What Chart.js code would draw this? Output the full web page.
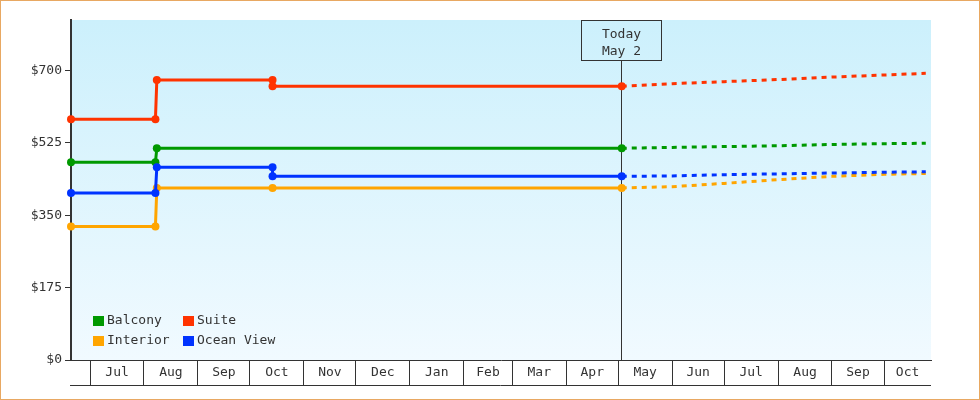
<!DOCTYPE html>
<html>
<head>
<meta charset="utf-8">
<script src="https://cdn.jsdelivr.net/npm/chart.js@4.4.1/dist/chart.umd.min.js"></script>
<style>
html,body{margin:0;padding:0;background:#fff;}
#wrap{width:980px;height:400px;position:relative;}
canvas{display:block;}
</style>
</head>
<body>
<div id="wrap"><canvas id="c" width="980" height="400"></canvas></div>
<script>
// ---- data (x values are days counted from Jul 1 of the first year) ----
const monthLabels = ['Jul','Aug','Sep','Oct','Nov','Dec','Jan','Feb','Mar','Apr','May','Jun','Jul','Aug','Sep','Oct'];
const monthStartDays = [0,31,62,92,123,153,184,215,243,274,304,335,365,396,427,457];
const yTickValues = [0,175,350,525,700];
const xMinDay = -11;
const xMaxDay = 484;
const yMaxValue = 822;
const todayDay = 306;
const todayLabel = ['Today','May 2'];

const seriesNames = ['Balcony','Suite','Interior','Ocean View'];

const balconyDays   = [-11, 37.6, 38.4, 306, 335, 365, 396, 427, 457, 481];
const balconyPrices = [478, 478, 512, 512, 514, 516, 518, 521, 523, 524];

const suiteDays   = [-11, 37.6, 38.4, 105, 105, 306, 335, 365, 396, 427, 457, 481];
const suitePrices = [582, 582, 677, 677, 662, 662, 668, 673, 678, 684, 689, 693];

const interiorDays   = [-11, 37.6, 38.4, 105, 306, 335, 365, 396, 427, 457, 481];
const interiorPrices = [323, 323, 416, 416, 416, 419, 427, 436, 444, 449, 451];

const oceanDays   = [-11, 37.6, 38.4, 105, 105, 306, 335, 365, 396, 427, 457, 481];
const oceanPrices = [404, 404, 466, 466, 444, 444, 445, 448, 450, 452, 454, 455];

// ---- styles ----
const colors = {Balcony:'#009900', Suite:'#ff3300', Interior:'#ffa500', 'Ocean View':'#0033ff'};
const FONT = '"DejaVu Sans Mono", "Liberation Mono", monospace';
const INK = '#333333';

function pts(days, vals){ return days.map((d,i)=>({x:d, y:vals[i]})); }

function makeDataset(name, days, vals, order){
  const c = colors[name];
  return {
    label: name,
    data: pts(days, vals),
    borderColor: c,
    backgroundColor: c,
    borderWidth: 3,
    tension: 0,
    fill: false,
    order: order,
    clip: false,
    pointRadius: ctx => (ctx.raw && ctx.raw.x <= todayDay) ? 4 : 0,
    pointHoverRadius: 0,
    pointBorderWidth: 0,
    pointBackgroundColor: c,
    segment: {
      borderDash: ctx => ctx.p0.parsed.x >= todayDay ? [5,5] : undefined
    }
  };
}

// x-axis ticks: month boundaries (separators) + box centres (labels)
const xTicks = [];
monthStartDays.forEach((d,i)=>{
  xTicks.push({value:d, sep:true, lab:''});
  const end = Math.min(i+1 < monthStartDays.length ? monthStartDays[i+1] : xMaxDay, xMaxDay);
  xTicks.push({value:(d+end)/2, sep:false, lab:monthLabels[i]});
});
xTicks.sort((a,b)=>a.value-b.value);

const bgPlugin = {
  id:'bg',
  beforeDraw(chart){
    const {ctx, chartArea:a} = chart;
    ctx.save();
    ctx.fillStyle = '#ffffff';
    ctx.fillRect(0,0,chart.width,chart.height);
    const g = ctx.createLinearGradient(0,a.top,0,a.bottom);
    g.addColorStop(0,'#ccf0fc');
    g.addColorStop(1,'#f1faff');
    ctx.fillStyle = g;
    ctx.fillRect(a.left,a.top,a.right-a.left,a.bottom-a.top);
    ctx.restore();
  },
  afterDraw(chart){
    const {ctx} = chart;
    const xs = chart.scales.x;
    ctx.save();
    // bottom line of the month row
    ctx.strokeStyle = INK; ctx.lineWidth = 1;
    ctx.beginPath();
    const yb = Math.round(xs.top + 25) + 0.5;
    ctx.moveTo(xs.left-1, yb); ctx.lineTo(xs.right, yb);
    ctx.stroke();
    // outer frame
    ctx.strokeStyle = '#e8a862';
    ctx.strokeRect(0.5,0.5,chart.width-1,chart.height-1);
    ctx.restore();
  }
};

const todayPlugin = {
  id:'today',
  beforeDatasetsDraw(chart){
    const {ctx, chartArea:a} = chart;
    const px = Math.floor(chart.scales.x.getPixelForValue(todayDay)) + 0.5;
    ctx.save();
    ctx.strokeStyle = INK; ctx.lineWidth = 1;
    const boxTop = a.top + 0.5, boxH = 40, boxW = 80;
    ctx.beginPath();
    ctx.moveTo(px, boxTop + boxH); ctx.lineTo(px, a.bottom);
    ctx.stroke();
    ctx.strokeRect(px - boxW/2, boxTop, boxW, boxH);
    ctx.fillStyle = INK;
    ctx.font = '13px ' + FONT;
    ctx.textAlign = 'center';
    ctx.textBaseline = 'alphabetic';
    ctx.fillText(todayLabel[0], px, a.top + 17.5);
    ctx.fillText(todayLabel[1], px, a.top + 35);
    ctx.restore();
  }
};

const legendPlugin = {
  id:'innerLegend',
  afterDatasetsDraw(chart){
    const {ctx, chartArea:a} = chart;
    ctx.save();
    ctx.font = '13px ' + FONT;
    ctx.textAlign = 'left';
    ctx.textBaseline = 'middle';
    chart.data.datasets.forEach((ds,i)=>{
      const col = i % 2, row = Math.floor(i/2);
      const x = a.left + 22 + col*90;
      const y = a.bottom - 44 + row*20;
      ctx.fillStyle = ds.borderColor;
      ctx.fillRect(x, y, 11, 10);
      ctx.fillStyle = INK;
      ctx.fillText(ds.label, x + 14, y + 5);
    });
    ctx.restore();
  }
};

new Chart(document.getElementById('c'), {
  type:'line',
  data:{
    datasets:[
      makeDataset(seriesNames[0], balconyDays, balconyPrices, 2),
      makeDataset(seriesNames[1], suiteDays, suitePrices, 1),
      makeDataset(seriesNames[2], interiorDays, interiorPrices, 3),
      makeDataset(seriesNames[3], oceanDays, oceanPrices, 0)
    ]
  },
  options:{
    responsive:false,
    animation:false,
    devicePixelRatio:1,
    events:[],
    layout:{padding:{left:0,right:49,top:20,bottom:15}},
    plugins:{legend:{display:false}, tooltip:{enabled:false}, title:{display:false}},
    scales:{
      x:{
        type:'linear',
        position:'bottom',
        min:xMinDay, max:xMaxDay,
        afterBuildTicks: s => { s.ticks = xTicks.map(t=>({value:t.value, sep:t.sep, lab:t.lab})); },
        afterFit: s => { s.height = 25; },
        grid:{
          drawOnChartArea:false,
          drawTicks:true,
          tickLength:25,
          lineWidth:1,
          color: INK,
          tickColor: ctx => (ctx.tick && ctx.tick.sep) ? INK : 'rgba(0,0,0,0)'
        },
        border:{display:true, color:INK, width:1},
        ticks:{
          autoSkip:false, maxRotation:0, minRotation:0,
          padding:-20,
          color:INK,
          font:{family:FONT, size:13},
          callback:(v,i,ticks)=> ticks[i].lab
        }
      },
      y:{
        type:'linear',
        position:'left',
        min:0, max:yMaxValue,
        afterBuildTicks: s => { s.ticks = yTickValues.map(v=>({value:v})); },
        afterFit: s => { s.width = 71; },
        grid:{drawOnChartArea:false, drawTicks:true, tickLength:6, color:INK, lineWidth:1},
        border:{display:true, color:INK, width:2},
        ticks:{padding:3, color:INK, font:{family:FONT, size:13}, callback:v=>'$'+v}
      }
    }
  },
  plugins:[bgPlugin, todayPlugin, legendPlugin]
});
</script>
</body>
</html>
